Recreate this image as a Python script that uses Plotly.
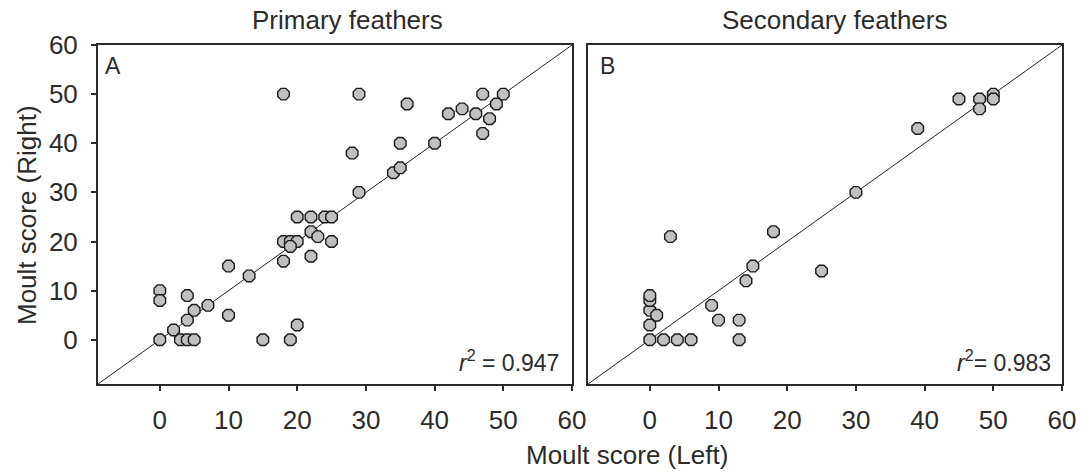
import plotly.graph_objects as go

# Panel A: Primary feathers (Left score, Right score)
primary_left = [0, 0, 0, 2, 3, 4, 5, 4, 4, 5, 7, 10, 10, 13, 15, 19, 20, 18, 22, 18, 19, 20, 19,
                22, 23, 25, 18, 20, 22, 24, 25, 29, 36, 28, 35, 29, 34, 35, 40, 42, 44, 46,
                47, 50, 49, 48, 47]
primary_right = [10, 8, 0, 2, 0, 0, 0, 4, 9, 6, 7, 15, 5, 13, 0, 0, 3, 16, 17, 20, 20, 20, 19,
                 22, 21, 20, 50, 25, 25, 25, 25, 50, 48, 38, 40, 30, 34, 35, 40, 46, 47, 46,
                 50, 50, 48, 45, 42]

# Panel B: Secondary feathers
secondary_left = [0, 2, 4, 6, 0, 0, 0, 0, 1, 3, 9, 10, 13, 13, 14, 15, 18, 25, 30, 39, 45, 48,
                  48, 50, 50]
secondary_right = [0, 0, 0, 0, 3, 6, 8, 9, 5, 21, 7, 4, 4, 0, 12, 15, 22, 14, 30, 43, 49, 49,
                   47, 50, 49]

panel_titles = ["Primary feathers", "Secondary feathers"]
panel_letters = ["A", "B"]
r2_labels = ["<i>r</i><sup>2</sup> = 0.947", "<i>r</i><sup>2</sup>= 0.983"]
tick_values = [0, 10, 20, 30, 40, 50, 60]
axis_range = [-9, 60]
x_title = "Moult score (Left)"
y_title = "Moult score (Right)"

W, H = 1085, 472
FONT = "Liberation Sans, Arial, sans-serif"
TXT = "#2b2b2b"

def px(x):
    return x / W

def py(y):
    return 1 - y / H

fig = go.Figure()

marker = dict(symbol="octagon", size=12.5, color="#c0c0c0",
              line=dict(color="#1a1a1a", width=1.4))

for i, (xs, ys) in enumerate([(primary_left, primary_right),
                              (secondary_left, secondary_right)]):
    xa = "x" if i == 0 else "x2"
    ya = "y" if i == 0 else "y2"
    fig.add_trace(go.Scatter(x=axis_range, y=axis_range, mode="lines",
                             line=dict(color="#222", width=1),
                             xaxis=xa, yaxis=ya, hoverinfo="skip"))
    fig.add_trace(go.Scatter(x=xs, y=ys, mode="markers", marker=marker,
                             xaxis=xa, yaxis=ya))

ydom = [1 - 384 / H, 1 - 45 / H]
common = dict(range=axis_range, tickvals=tick_values, showline=True, mirror=True,
              linecolor="#2a2a2a", linewidth=2, showgrid=False, zeroline=False,
              ticks="outside", ticklen=5, tickcolor="#2a2a2a", tickwidth=1.5,
              tickfont=dict(family=FONT, size=26, color=TXT), automargin=False)

fig.update_layout(
    width=W, height=H, showlegend=False,
    margin=dict(l=0, r=0, t=0, b=0),
    paper_bgcolor="white", plot_bgcolor="white",
    xaxis=dict(domain=[98 / W, 572 / W], anchor="y", ticklabelstandoff=7, **common),
    yaxis=dict(domain=ydom, anchor="x", ticklabelstandoff=8, **common),
    xaxis2=dict(domain=[588 / W, 1062 / W], anchor="y2", ticklabelstandoff=7, **common),
    yaxis2=dict(domain=ydom, anchor="x2", **{**common, "ticks": "", "showticklabels": False}),
)

ann = []
title_x = [347, 834]
for i in range(2):
    ann.append(dict(text=panel_titles[i], x=px(title_x[i]), y=py(20), xref="paper", yref="paper",
                    xanchor="center", yanchor="middle", showarrow=False,
                    font=dict(family=FONT, size=26, color=TXT)))
letter_x = [113, 607]
for i in range(2):
    ann.append(dict(text=panel_letters[i], x=px(letter_x[i]), y=py(66), xref="paper", yref="paper",
                    xanchor="center", yanchor="middle", showarrow=False,
                    font=dict(family=FONT, size=23, color=TXT)))
r2_right = [561, 1053]
for i in range(2):
    ann.append(dict(text=r2_labels[i], x=px(r2_right[i]), y=py(378), xref="paper", yref="paper",
                    xanchor="right", yanchor="bottom", showarrow=False,
                    font=dict(family=FONT, size=23, color=TXT)))
ann.append(dict(text=x_title, x=px(627), y=py(455), xref="paper", yref="paper",
                xanchor="center", yanchor="middle", showarrow=False,
                font=dict(family=FONT, size=26, color=TXT)))
ann.append(dict(text=y_title, x=px(27), y=py(215), xref="paper", yref="paper",
                xanchor="center", yanchor="middle", showarrow=False, textangle=-90,
                font=dict(family=FONT, size=26, color=TXT)))
fig.update_layout(annotations=ann)

fig.write_html("out.html")
